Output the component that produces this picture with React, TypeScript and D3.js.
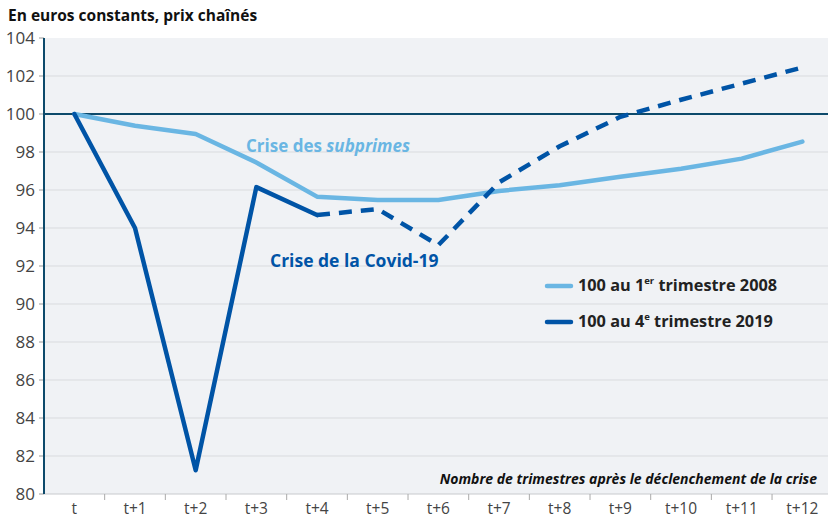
import React from 'react';
import * as d3 from 'd3';

const quarters = ['t', 't+1', 't+2', 't+3', 't+4', 't+5', 't+6', 't+7', 't+8', 't+9', 't+10', 't+11', 't+12'];
const subprimes = [100, 99.38, 98.95, 97.45, 95.65, 95.47, 95.47, 95.95, 96.25, 96.7, 97.12, 97.65, 98.55];
const covid = [100, 94.0, 81.25, 96.15, 94.68, 95.0, 93.1, 96.4, 98.3, 99.85, 100.75, 101.6, 102.45];
const covidSolidUntil = 4;
const yTicks = [80, 82, 84, 86, 88, 90, 92, 94, 96, 98, 100, 102, 104];

const W = 828;
const H = 518;
const left = 44;
const top = 38;
const bottom = 494;
const font = '"Open Sans", "Noto Sans", sans-serif';
const lightBlue = '#6ab6e3';
const darkBlue = '#0054a6';

export default function App() {
  const x = d3.scaleBand<string>().domain(quarters).range([left, left + 13 * 60.67]);
  const y = d3.scaleLinear().domain([80, 104]).range([bottom, top]);
  const cx = (i: number) => (x(quarters[i]) as number) + x.bandwidth() / 2;

  const line = d3.line<number>()
    .x((_, i) => cx(i))
    .y((d) => y(d));

  const covidSolid = covid.slice(0, covidSolidUntil + 1);
  const lineDashed = d3.line<number>()
    .x((_, i) => cx(i + covidSolidUntil))
    .y((d) => y(d));
  const covidDashed = covid.slice(covidSolidUntil);

  return (
    <svg width={W} height={H} style={{ position: 'absolute', left: 0, top: 0, fontFamily: font }}>
      <rect x={0} y={0} width={W} height={H} fill="#fff" />
      <rect x={left} y={top} width={W - left} height={bottom - top} fill="#f0f2f5" />
      {yTicks.map((t) => (
        <g key={t}>
          {t !== 80 && t !== 104 && t !== 100 && (
            <line x1={left} x2={W} y1={y(t)} y2={y(t)} stroke="#d9dbde" strokeWidth={1} />
          )}
          <line x1={left - 5} x2={left} y1={y(t)} y2={y(t)} stroke="#999" />
          <text x={left - 9} y={y(t)} dy="0.35em" textAnchor="end" fontSize={17} fill="#444">{t}</text>
        </g>
      ))}
      <line x1={left} x2={W} y1={bottom} y2={bottom} stroke="#c8cacd" strokeWidth={1} />
      {quarters.map((q, i) => (
        <g key={q}>
          {i > 0 && (
            <line x1={x(q)} x2={x(q)} y1={bottom} y2={bottom + 6} stroke="#aaa" />
          )}
          <text x={cx(i)} y={514} textAnchor="middle" fontSize={15.5} fill="#444">{q}</text>
        </g>
      ))}
      <line x1={left} x2={left} y1={top} y2={bottom} stroke="#0d4a6b" strokeWidth={2} />
      <line x1={left} x2={W} y1={y(100)} y2={y(100)} stroke="#0d4a6b" strokeWidth={2} />

      <path d={line(subprimes) || ''} fill="none" stroke={lightBlue} strokeWidth={4.5} strokeLinejoin="round" strokeLinecap="round" />
      <path d={line(covidSolid) || ''} fill="none" stroke={darkBlue} strokeWidth={4.5} strokeLinejoin="round" strokeLinecap="round" />
      <path d={lineDashed(covidDashed) || ''} fill="none" stroke={darkBlue} strokeWidth={4.5} strokeDasharray="13 9" strokeLinejoin="round" />

      <text x={246} y={152} fontSize={17} fontWeight="bold" fill={lightBlue}>
        Crise des <tspan fontStyle="italic">subprimes</tspan>
      </text>
      <text x={270} y={267} fontSize={17.5} fontWeight="bold" fill={darkBlue}>Crise de la Covid-19</text>

      <line x1={547} x2={571} y1={286} y2={286} stroke={lightBlue} strokeWidth={4.5} strokeLinecap="round" />
      <text x={578} y={291} fontSize={16.3} fontWeight="bold" fill="#222">
        100 au 1<tspan fontSize={9.5} dy={-7}>er</tspan><tspan dy={7}> trimestre 2008</tspan>
      </text>
      <line x1={547} x2={571} y1={322} y2={322} stroke={darkBlue} strokeWidth={4.5} strokeLinecap="round" />
      <text x={578} y={327} fontSize={16.3} fontWeight="bold" fill="#222">
        100 au 4<tspan fontSize={9.5} dy={-7}>e</tspan><tspan dy={7}> trimestre 2019</tspan>
      </text>

      <text x={8} y={21} fontSize={15.5} fontWeight="bold" fill="#111">En euros constants, prix chaînés</text>
      <text x={817} y={484} textAnchor="end" fontSize={14} fontWeight="bold" fontStyle="italic" fill="#111">
        Nombre de trimestres après le déclenchement de la crise
      </text>
    </svg>
  );
}
